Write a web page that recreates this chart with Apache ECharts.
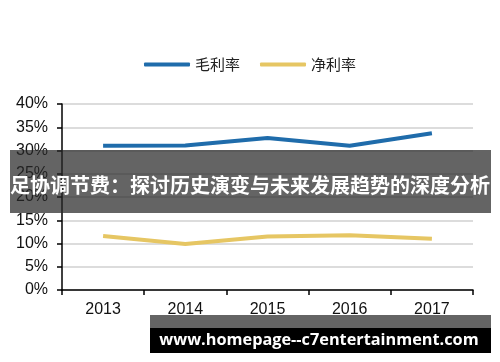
<!DOCTYPE html>
<html><head><meta charset="utf-8">
<script src="https://cdn.jsdelivr.net/npm/echarts@6/dist/echarts.min.js"></script>
<style>html,body{margin:0;padding:0;background:#fff}#c{width:500px;height:362px}</style>
</head><body><div id="c"></div>
<script>
var categories = ['2013', '2014', '2015', '2016', '2017'];
var grossMargin = [31.0, 31.1, 32.7, 31.0, 33.7];
var netMargin = [11.6, 9.9, 11.5, 11.8, 11.0];
var seriesNames = ['毛利率', '净利率'];
var bannerText = '足协调节费：探讨历史演变与未来发展趋势的深度分析';
var urlText = 'www.homepage--c7entertainment.com';

var chart = echarts.init(document.getElementById('c'), null, {renderer: 'canvas'});
chart.setOption({
  animation: false,
  backgroundColor: '#fff',
  legend: {
    top: 52, left: 'center', itemWidth: 46, itemHeight: 4, itemGap: 20,
    icon: 'roundRect',
    textStyle: {fontFamily: 'Noto Sans CJK SC', fontSize: 15, color: '#222'},
    data: seriesNames
  },
  grid: {left: 62, right: 27, top: 104, bottom: 72},
  xAxis: {
    type: 'category', data: categories, boundaryGap: true,
    axisLine: {lineStyle: {color: '#000', width: 1.5}},
    axisTick: {show: true, length: 5, inside: false, lineStyle: {color: '#000', width: 1.5}},
    axisLabel: {fontFamily: 'Liberation Sans', fontSize: 16, color: '#111', margin: 12}
  },
  yAxis: {
    type: 'value', min: 0, max: 40, interval: 5,
    axisLine: {show: true, lineStyle: {color: '#000', width: 1.5}},
    axisTick: {show: true, length: 5, lineStyle: {color: '#000', width: 1.5}},
    axisLabel: {formatter: '{value}%', fontFamily: 'Liberation Sans', fontSize: 16, color: '#111', margin: 14},
    splitLine: {lineStyle: {color: '#d0d0d0', width: 1.5}}
  },
  series: [
    {name: seriesNames[0], type: 'line', data: grossMargin, symbol: 'none',
     lineStyle: {color: '#1f6cab', width: 4}, itemStyle: {color: '#1f6cab'}},
    {name: seriesNames[1], type: 'line', data: netMargin, symbol: 'none',
     lineStyle: {color: '#e6c663', width: 4}, itemStyle: {color: '#e6c663'}}
  ],
  graphic: [
    {type: 'rect', shape: {x: 10, y: 150, width: 481, height: 63}, style: {fill: 'rgba(40,40,40,0.72)'}, z: 100},
    {type: 'text', x: 250, y: 185, style: {text: bannerText, fill: '#fff', font: 'bold 20px "Noto Sans CJK SC"', textAlign: 'center', textVerticalAlign: 'middle'}, z: 101},
    {type: 'rect', shape: {x: 150, y: 315, width: 341, height: 13}, style: {fill: 'rgba(40,40,40,0.72)'}, z: 100},
    {type: 'rect', shape: {x: 150, y: 328, width: 341, height: 25}, style: {fill: '#000'}, z: 100},
    {type: 'text', x: 319, y: 340, style: {text: urlText, fill: '#fff', font: 'bold 16.3px "Open Sans"', textAlign: 'center', textVerticalAlign: 'middle'}, z: 101}
  ]
});
</script></body></html>
